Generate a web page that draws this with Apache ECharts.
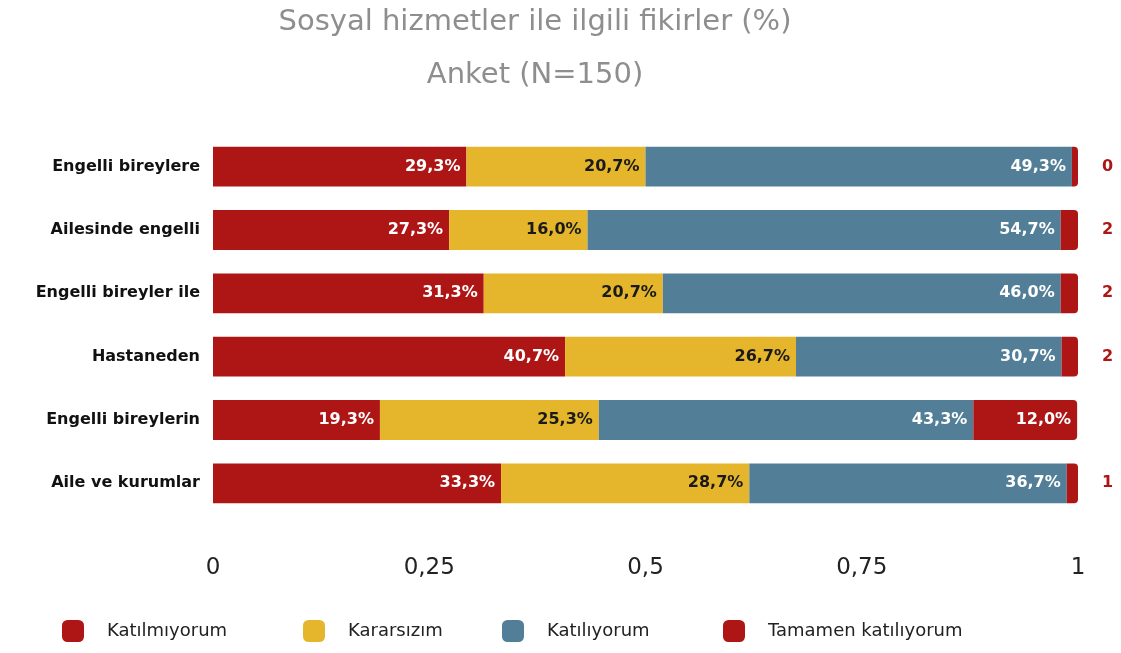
<!DOCTYPE html>
<html>
<head>
<meta charset="utf-8">
<script src="https://cdn.jsdelivr.net/npm/echarts@6/dist/echarts.min.js"></script>
<style>
  html, body { margin: 0; padding: 0; background: #fff; }
  #main { width: 1121px; height: 653px; }
</style>
</head>
<body>
<div id="main"></div>
<script>
// categories, top to bottom
const categories = ['Engelli bireylere', 'Ailesinde engelli', 'Engelli bireyler ile', 'Hastaneden', 'Engelli bireylerin', 'Aile ve kurumlar']
const seriesNames = ['Katılmıyorum', 'Kararsızım', 'Katılıyorum', 'Tamamen katılıyorum']
const katilmiyorum = [0.293, 0.273, 0.313, 0.407, 0.193, 0.333]
const kararsizim = [0.207, 0.160, 0.207, 0.267, 0.253, 0.287]
const katiliyorum = [0.493, 0.547, 0.460, 0.307, 0.433, 0.367]
const tamamen = [0.007, 0.020, 0.020, 0.020, 0.120, 0.013]
const xTicks = [0, 0.25, 0.5, 0.75, 1]

const colors = ['#ae1616', '#e5b62b', '#527f97', '#ae1616']
const labelColors = ['#fff', '#1a1a1a', '#fff', '#fff']
const values = [katilmiyorum, kararsizim, katiliyorum, tamamen]
const legendLeft = [57, 298, 497, 718]

function pct(v) {
    return (v * 100).toFixed(1).replace('.', ',') + '%'
}

const labelFont = {
    fontFamily: 'DejaVu Sans',
    fontWeight: 'bold',
    fontSize: 16
}

const myChart = echarts.init(document.getElementById('main'))

const series = values.map(function (vals, i) {
    const isLast = i === 3
    return {
        name: seriesNames[i],
        type: 'bar',
        stack: 'total',
        barWidth: '63%',
        itemStyle: {
            color: colors[i],
            borderRadius: isLast ? [0, 4, 4, 0] : 0
        },
        label: Object.assign({
            show: true,
            position: 'insideRight',
            distance: 6,
            color: labelColors[i],
            formatter: function (p) { return pct(p.value) }
        }, labelFont),
        data: vals.map(function (v) {
            if (isLast && v < 0.05) {
                // small slice: label drawn outside the bar, integer only
                return {
                    value: v,
                    label: {
                        position: 'right',
                        distance: 24,
                        color: '#ae1616',
                        formatter: function (p) { return String(Math.floor(p.value * 100 + 1e-6)) }
                    }
                }
            }
            return v
        })
    }
})

// one legend per item so each sits where the reference has it
const legends = seriesNames.map(function (n, i) {
    return {
        bottom: 6,
        left: legendLeft[i],
        itemWidth: 22,
        itemHeight: 22,
        icon: 'roundRect',
        textStyle: {
            fontFamily: 'DejaVu Sans',
            fontSize: 18,
            color: '#222',
            padding: [0, 0, 0, 18]
        },
        data: [{ name: n, itemStyle: { color: colors[i] } }]
    }
})

const option = {
    color: colors,
    title: {
        text: 'Sosyal hizmetler ile ilgili fikirler (%)\nAnket (N=150)',
        left: 530,
        textAlign: 'center',
        top: -9,
        textStyle: {
            fontFamily: 'DejaVu Sans',
            fontWeight: 'normal',
            fontSize: 29,
            color: '#8e8e8e',
            lineHeight: 53
        }
    },
    legend: legends,
    grid: {
        left: 213,
        right: 43,
        top: 135,
        bottom: 138
    },
    xAxis: {
        type: 'value',
        min: 0,
        max: 1,
        interval: 0.25,
        axisLine: { show: false },
        axisTick: { show: false },
        splitLine: { show: false },
        axisLabel: {
            margin: 42,
            fontFamily: 'DejaVu Sans',
            fontSize: 23,
            color: '#222',
            formatter: function (v) {
                return xTicks.indexOf(v) >= 0 ? String(v).replace('.', ',') : ''
            }
        }
    },
    yAxis: {
        type: 'category',
        inverse: true,
        data: categories,
        axisLine: { show: false },
        axisTick: { show: false },
        axisLabel: {
            margin: 13,
            fontFamily: 'DejaVu Sans',
            fontWeight: 'bold',
            fontSize: 16,
            color: '#111'
        }
    },
    series: series
}

myChart.setOption(option)
</script>
</body>
</html>
